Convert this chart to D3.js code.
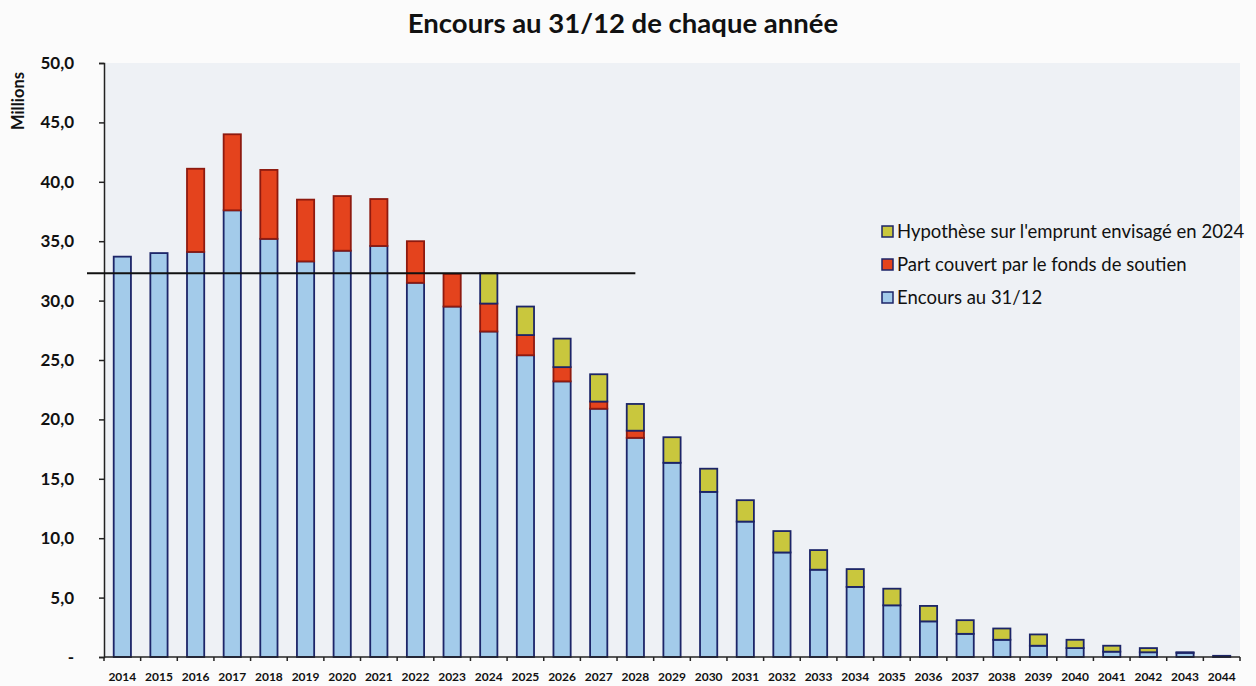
<!DOCTYPE html>
<html>
<head>
<meta charset="utf-8">
<script src="https://cdn.jsdelivr.net/npm/d3@7"></script>
<style>
  body { margin: 0; background: #fbfbfb; }
  svg { display: block; font-family: Lato, "Open Sans", sans-serif; }
</style>
</head>
<body>
<svg id="chart" width="1256" height="686"></svg>
<script>
// values (millions)
const years = d3.range(2014, 2045).map(String);
const encours = [33.7, 34.0, 34.1, 37.6, 35.2, 33.3, 34.2, 34.6, 31.5, 29.5, 27.4, 25.4, 23.2, 20.9, 18.45,
                 16.35, 13.9, 11.4, 8.8, 7.35, 5.9, 4.35, 3.0, 1.95, 1.45, 0.95, 0.75, 0.45, 0.4, 0.35, 0.1];
const fonds = [0, 0, 7.0, 6.4, 5.8, 5.2, 4.6, 3.95, 3.5, 2.75, 2.35, 1.7, 1.2, 0.6, 0.6,
               0, 0, 0, 0, 0, 0, 0, 0, 0, 0, 0, 0, 0, 0, 0, 0];
const emprunt = [0, 0, 0, 0, 0, 0, 0, 0, 0, 0, 2.55, 2.4, 2.4, 2.3, 2.25,
                 2.15, 1.95, 1.8, 1.8, 1.65, 1.5, 1.4, 1.3, 1.15, 0.95, 0.95, 0.7, 0.5, 0.35, 0.05, 0];
const yTicks = d3.range(0, 51, 5);
const refLevel = 32.3;      // trait horizontal ajouté à la main
const refEndYear = "2028";

const seriesKeys = ["encours", "fonds", "emprunt"];
const seriesFill = { encours: "#a3cbea", fonds: "#e4431d", emprunt: "#c9c73d" };
const seriesStroke = { encours: "#1c2568", fonds: "#8e1a0f", emprunt: "#1c2568" };
const legendItems = [
  { key: "emprunt", label: "Hypothèse sur l'emprunt envisagé en 2024" },
  { key: "fonds", label: "Part couvert par le fonds de soutien" },
  { key: "encours", label: "Encours au 31/12" }
];

const rows = years.map((y, i) => ({ year: y, encours: encours[i], fonds: fonds[i], emprunt: emprunt[i] }));

const svg = d3.select("#chart");
const plotL = 104, plotR = 1240, plotT = 63, plotB = 657;

const x = d3.scaleBand().domain(years).range([plotL, plotR]).paddingInner(0.53).paddingOuter(0.265);
const y = d3.scaleLinear().domain([0, 50]).range([plotB, plotT]);

// plot area
svg.append("rect").attr("x", plotL).attr("y", plotT).attr("width", plotR - plotL).attr("height", plotB - plotT)
  .attr("fill", "#eef1f5");

// title
svg.append("text").attr("x", 623).attr("y", 33).attr("text-anchor", "middle")
  .attr("font-size", 27.5).attr("font-weight", 700).attr("fill", "#111")
  .text("Encours au 31/12 de chaque année");

// y axis
const fmt = v => v === 0 ? "-" : d3.format(".1f")(v).replace(".", ",");
const yAxis = svg.append("g").attr("transform", `translate(${plotL},0)`)
  .call(d3.axisLeft(y).tickValues(yTicks).tickFormat(fmt).tickSize(5).tickPadding(25));
yAxis.select(".domain").attr("stroke", "#222").attr("stroke-width", 1.5);
yAxis.selectAll(".tick line").attr("stroke", "#222").attr("stroke-width", 1.5);
yAxis.selectAll(".tick text").attr("font-size", 17).attr("font-weight", 700).attr("fill", "#111")
  .attr("font-family", "Lato, sans-serif");

svg.append("text").attr("transform", "translate(24,101) rotate(-90)").attr("text-anchor", "middle")
  .attr("font-size", 16.5).attr("font-weight", 700).attr("fill", "#111").text("Millions");

// bars
const stacked = d3.stack().keys(seriesKeys)(rows);
svg.append("g").selectAll("g").data(stacked).join("g")
  .attr("fill", d => seriesFill[d.key]).attr("stroke", d => seriesStroke[d.key])
  .selectAll("rect").data(d => d.filter(p => p[1] - p[0] > 0)).join("rect")
  .attr("x", d => x(d.data.year))
  .attr("width", x.bandwidth())
  .attr("y", d => y(d[1]))
  .attr("height", d => y(d[0]) - y(d[1]))
  .attr("stroke-width", 1.8);

// x axis
const xAxis = svg.append("g").attr("transform", `translate(0,${plotB})`);
xAxis.append("line").attr("x1", plotL).attr("x2", plotR).attr("stroke", "#222").attr("stroke-width", 1.5);
const gap = (x.step() - x.bandwidth()) / 2;
xAxis.selectAll(".tk").data(years.concat(["end"])).join("line")
  .attr("x1", (d, i) => i < years.length ? x(d) - gap : plotR)
  .attr("x2", (d, i) => i < years.length ? x(d) - gap : plotR)
  .attr("y1", 0).attr("y2", 4).attr("stroke", "#222").attr("stroke-width", 1.5);
xAxis.selectAll("text").data(years).join("text")
  .attr("x", d => x(d) + x.bandwidth() / 2).attr("y", 24)
  .attr("text-anchor", "middle").attr("font-size", 12).attr("font-weight", 700).attr("fill", "#111")
  .text(d => d);

// reference line
svg.append("line")
  .attr("x1", plotL - 17).attr("x2", x(refEndYear) + x.bandwidth() / 2)
  .attr("y1", y(refLevel)).attr("y2", y(refLevel))
  .attr("stroke", "#111").attr("stroke-width", 2);

// legend
const lg = svg.append("g").attr("transform", "translate(882,232)");
const li = lg.selectAll("g").data(legendItems).join("g")
  .attr("transform", (d, i) => `translate(0,${i * 33})`);
li.append("rect").attr("x", 0).attr("y", -6).attr("width", 11).attr("height", 11)
  .attr("fill", d => seriesFill[d.key]).attr("stroke", "#1c2568").attr("stroke-width", 1.5);
li.append("text").attr("x", 15).attr("y", 6).attr("font-size", 18.5).attr("fill", "#111")
  .text(d => d.label);
</script>
</body>
</html>
